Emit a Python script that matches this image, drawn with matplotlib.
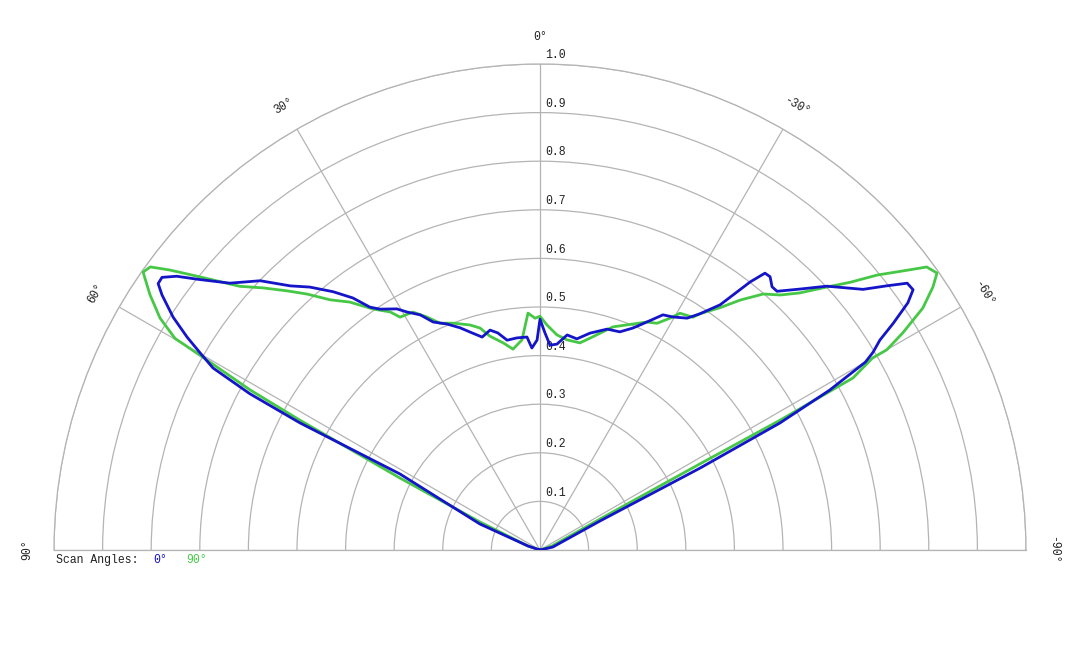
import numpy as np
import matplotlib
matplotlib.use("Agg")
import matplotlib.pyplot as plt

# ---- data (angle in degrees, positive to the left; normalised intensity) ----
blue_theta = [90.0, 71.6, 66.6, 61.5, 62.1, 61.7, 60.9, 59.9, 58.9, 57.6, 56.0, 55.1,
              54.2, 53.0, 51.7, 49.3, 46.1, 43.4, 41.2, 38.7, 36.6, 35.0, 33.6, 30.7,
              29.2, 27.0, 25.1, 22.4, 19.8, 17.8, 15.2, 12.8, 11.0, 8.9, 6.2, 3.5, 2.3,
              0.8, 0.0, -1.3, -2.8, -4.7, -7.2, -9.9, -13.0, -16.9, -20.1, -22.7, -25.1,
              -27.6, -29.7, -32.4, -34.1, -36.3, -38.1, -39.1, -40.1, -41.4, -42.5, -44.9,
              -47.4, -51.1, -52.7, -54.0, -55.1, -56.1, -57.3, -58.3, -59.3, -60.0, -61.1,
              -62.1, -62.9, -64.2, -77.0, -90.0]
blue_r = [0.0, 0.026, 0.135, 0.328, 0.559, 0.678, 0.770, 0.808, 0.848, 0.894, 0.938, 0.958,
          0.959, 0.936, 0.899, 0.842, 0.799, 0.748, 0.719, 0.681, 0.646, 0.610, 0.595, 0.577,
          0.561, 0.543, 0.518, 0.503, 0.486, 0.471, 0.454, 0.464, 0.455, 0.437, 0.439, 0.439, 0.416,
          0.432, 0.475, 0.447, 0.422, 0.425, 0.446, 0.441, 0.458, 0.475, 0.478, 0.495, 0.518,
          0.546, 0.552, 0.565, 0.587, 0.626, 0.701, 0.734, 0.735, 0.722, 0.722, 0.758,
          0.802, 0.854, 0.897, 0.934, 0.936, 0.912, 0.864, 0.822, 0.797, 0.773, 0.681,
          0.559, 0.370, 0.137, 0.027, 0.0]

green_theta = [90.0, 71.6, 65.0, 62.8, 61.6, 61.1, 60.2, 59.9, 58.6, 56.8, 55.0,
               54.0, 52.9, 51.4, 50.2, 48.7, 46.6, 44.3, 42.3, 40.0, 37.5, 34.7, 32.2,
               31.0, 28.1, 25.9, 23.8, 21.0, 17.3, 15.1, 13.2, 10.1, 7.65, 4.9, 2.9, 1.2,
               0.0, -1.8, -4.5, -7.3, -10.9, -13.3, -15.5, -18.1, -25.1, -27.3, -29.3,
               -30.6, -33.3, -34.1, -36.6, -38.7, -41.1, -43.3, -45.3, -47.5, -49.2, -50.8,
               -52.7, -53.8, -55.1, -56.2, -57.7, -59.1, -60.0, -60.0, -61.2, -61.6, -61.7,
               -62.7, -71.6, -90.0]
green_r = [0.0, 0.026, 0.136, 0.324, 0.562, 0.681, 0.806, 0.868, 0.916, 0.959, 0.997,
           0.991, 0.955, 0.903, 0.865, 0.822, 0.785, 0.745, 0.712, 0.672, 0.643, 0.603, 0.579,
           0.559, 0.555, 0.533, 0.510, 0.500, 0.485, 0.473, 0.452, 0.433, 0.417, 0.434, 0.488, 0.477,
           0.481, 0.463, 0.444, 0.436, 0.434, 0.448, 0.463, 0.483, 0.518, 0.525, 0.547,
           0.566, 0.573, 0.587, 0.621, 0.659, 0.699, 0.721, 0.752, 0.801, 0.843, 0.895,
           0.950, 0.986, 0.996, 0.973, 0.932, 0.870, 0.824, 0.790, 0.735, 0.562, 0.374,
           0.139, 0.026, 0.0]

r_ticks = [0.1, 0.2, 0.3, 0.4, 0.5, 0.6, 0.7, 0.8, 0.9, 1.0]
r_tick_labels = ["0.1", "0.2", "0.3", "0.4", "0.5", "0.6", "0.7", "0.8", "0.9", "1.0"]
theta_ticks = [-90, -60, -30, 0, 30, 60, 90]
theta_tick_labels = ["-90°", "-60°", "-30°", "0°", "30°", "60°", "90°"]
legend_labels = ["0°", "90°"]

BLUE = "#1414c8"
GREEN = "#46c846"
GRID = "#b4b4b4"
TXT = "#222222"
FONT = "Liberation Mono"
FS = 8.3

W, H = 1080, 648
fig = plt.figure(figsize=(W / 100, H / 100), dpi=100)
fig.patch.set_facecolor("white")

cx, cy, R = 540, 550, 486
side = 2 * R
bottom_px = (H - cy) - side / 4
ax = fig.add_axes([(cx - R) / W, bottom_px / H, side / W, side / H], projection="polar")
ax.set_theta_zero_location("N")
ax.set_theta_direction(1)
ax.set_thetamin(-90)
ax.set_thetamax(90)
ax.set_rlim(0, 1)

ax.set_xticks(np.deg2rad(theta_ticks))
ax.set_xticklabels([])
ax.set_yticks(r_ticks)
ax.set_yticklabels([])
ax.grid(True, color=GRID, linewidth=0.9)
ax.tick_params(length=0)
for s in ax.spines.values():
    s.set_color(GRID)
    s.set_linewidth(0.9)

ax.plot(np.deg2rad(green_theta), green_r, color=GREEN, linewidth=2.0, zorder=3)
ax.plot(np.deg2rad(blue_theta), blue_r, color=BLUE, linewidth=2.0, zorder=4)

for r, lab in zip(r_ticks, r_tick_labels):
    ax.annotate(lab, xy=(0, r), xytext=(3.5, 2), textcoords="offset points",
                ha="left", va="bottom", fontsize=FS, family=FONT, color=TXT,
                annotation_clip=False)

for t, lab in zip(theta_ticks, theta_tick_labels):
    ax.text(np.deg2rad(t), 1.055, lab, rotation=t, rotation_mode="anchor",
            ha="center", va="center", fontsize=FS, family=FONT, color=TXT,
            clip_on=False)

fig.text(56 / W, 1 - 560 / H, "Scan Angles:", ha="left", va="center",
         fontsize=FS, family=FONT, color=TXT)
fig.text(153 / W, 1 - 560 / H, legend_labels[0], ha="left", va="center",
         fontsize=FS, family=FONT, color=BLUE)
fig.text(186 / W, 1 - 560 / H, legend_labels[1], ha="left", va="center",
         fontsize=FS, family=FONT, color=GREEN)

fig.savefig("out.png", dpi=100, facecolor="white")
